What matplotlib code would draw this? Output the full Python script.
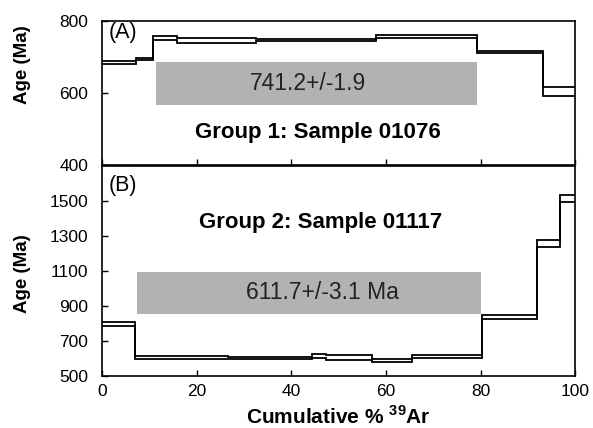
import matplotlib

matplotlib.use("Agg")
import matplotlib.pyplot as plt

plt.rcParams["font.family"] = ["Liberation Sans", "DejaVu Sans"]
plt.rcParams["mathtext.fontset"] = "custom"
plt.rcParams["mathtext.rm"] = "Liberation Sans:bold"
plt.rcParams["mathtext.bf"] = "Liberation Sans:bold"

# (A) Group 1: Sample 01076 -- step edges (cumulative % 39Ar) and age envelope (Ma)
edges_a = [0, 7.2, 10.8, 15.9, 32.6, 57.9, 79.3, 93.2, 100]
upper_a = [689, 698, 758, 752, 749, 761, 717, 617]
lower_a = [680, 692, 747, 740, 743, 752, 710, 592]
plateau_a = (11.4, 79.3, 567, 685)  # x0, x1, y0, y1
label_a = "741.2+/-1.9"

# (B) Group 2: Sample 01117
edges_b = [0, 7.0, 26.6, 44.3, 47.3, 57.0, 65.5, 80.3, 91.9, 96.8, 100]
upper_b = [810, 614, 607, 625, 620, 595, 620, 850, 1275, 1533]
lower_b = [783, 598, 595, 605, 592, 578, 603, 825, 1240, 1495]
plateau_b = (7.3, 80.0, 855, 1097)
label_b = "611.7+/-3.1 Ma"

GRAY = "#b2b2b2"


def draw_panel(ax, edges, upper, lower, plateau, label, text_x):
    x0, x1, y0, y1 = plateau
    ax.fill_between([x0, x1], y0, y1, color=GRAY, lw=0, zorder=1)
    ax.stairs(upper, edges, baseline=None, color="black", lw=1.3, zorder=3)
    ax.stairs(lower, edges, baseline=None, color="black", lw=1.3, zorder=3)
    ax.text(text_x, (y0 + y1) / 2, label, ha="center", va="center",
            fontsize=16.5, color="#222222", zorder=4)
    ax.set_xlim(0, 100)
    ax.tick_params(direction="in", length=4, width=1, labelsize=12.5, pad=10)
    ax.tick_params(axis="x", pad=6)
    for s in ax.spines.values():
        s.set_linewidth(1.2)


fig = plt.figure(figsize=(5.93, 4.28), dpi=100)
ax1 = fig.add_axes([0.172, 0.6145, 0.798, 0.3365])
ax2 = fig.add_axes([0.172, 0.1215, 0.798, 0.4905])

draw_panel(ax1, edges_a, upper_a, lower_a, plateau_a, label_a, 43.6)
ax1.set_ylim(400, 800)
ax1.set_yticks([400, 600, 800])
ax1.set_xticks([0, 20, 40, 60, 80, 100])
ax1.tick_params(labelbottom=False)
ax1.text(1.5, 767, "(A)", fontsize=15.5, ha="left", va="center")
ax1.text(45.7, 489, "Group 1: Sample 01076", fontsize=16, fontweight="bold",
         ha="center", va="center")
ax1.set_ylabel("Age (Ma)", fontsize=13.5, fontweight="bold")
ax1.yaxis.set_label_coords(-0.15, 0.70)

draw_panel(ax2, edges_b, upper_b, lower_b, plateau_b, label_b, 46.6)
ax2.set_ylim(500, 1700)
ax2.set_yticks([500, 700, 900, 1100, 1300, 1500])
ax2.set_xticks([0, 20, 40, 60, 80, 100])
ax2.text(1.3, 1590, "(B)", fontsize=15.5, ha="left", va="center")
ax2.text(46.1, 1380, "Group 2: Sample 01117", fontsize=16, fontweight="bold",
         ha="center", va="center")
ax2.set_ylabel("Age (Ma)", fontsize=13.5, fontweight="bold")
ax2.yaxis.set_label_coords(-0.15, 0.49)
ax2.set_xlabel(r"Cumulative % $^{\mathbf{39}}$Ar", fontsize=15, fontweight="bold",
               labelpad=4.5)

fig.savefig("out.png", dpi=100, facecolor="white")
